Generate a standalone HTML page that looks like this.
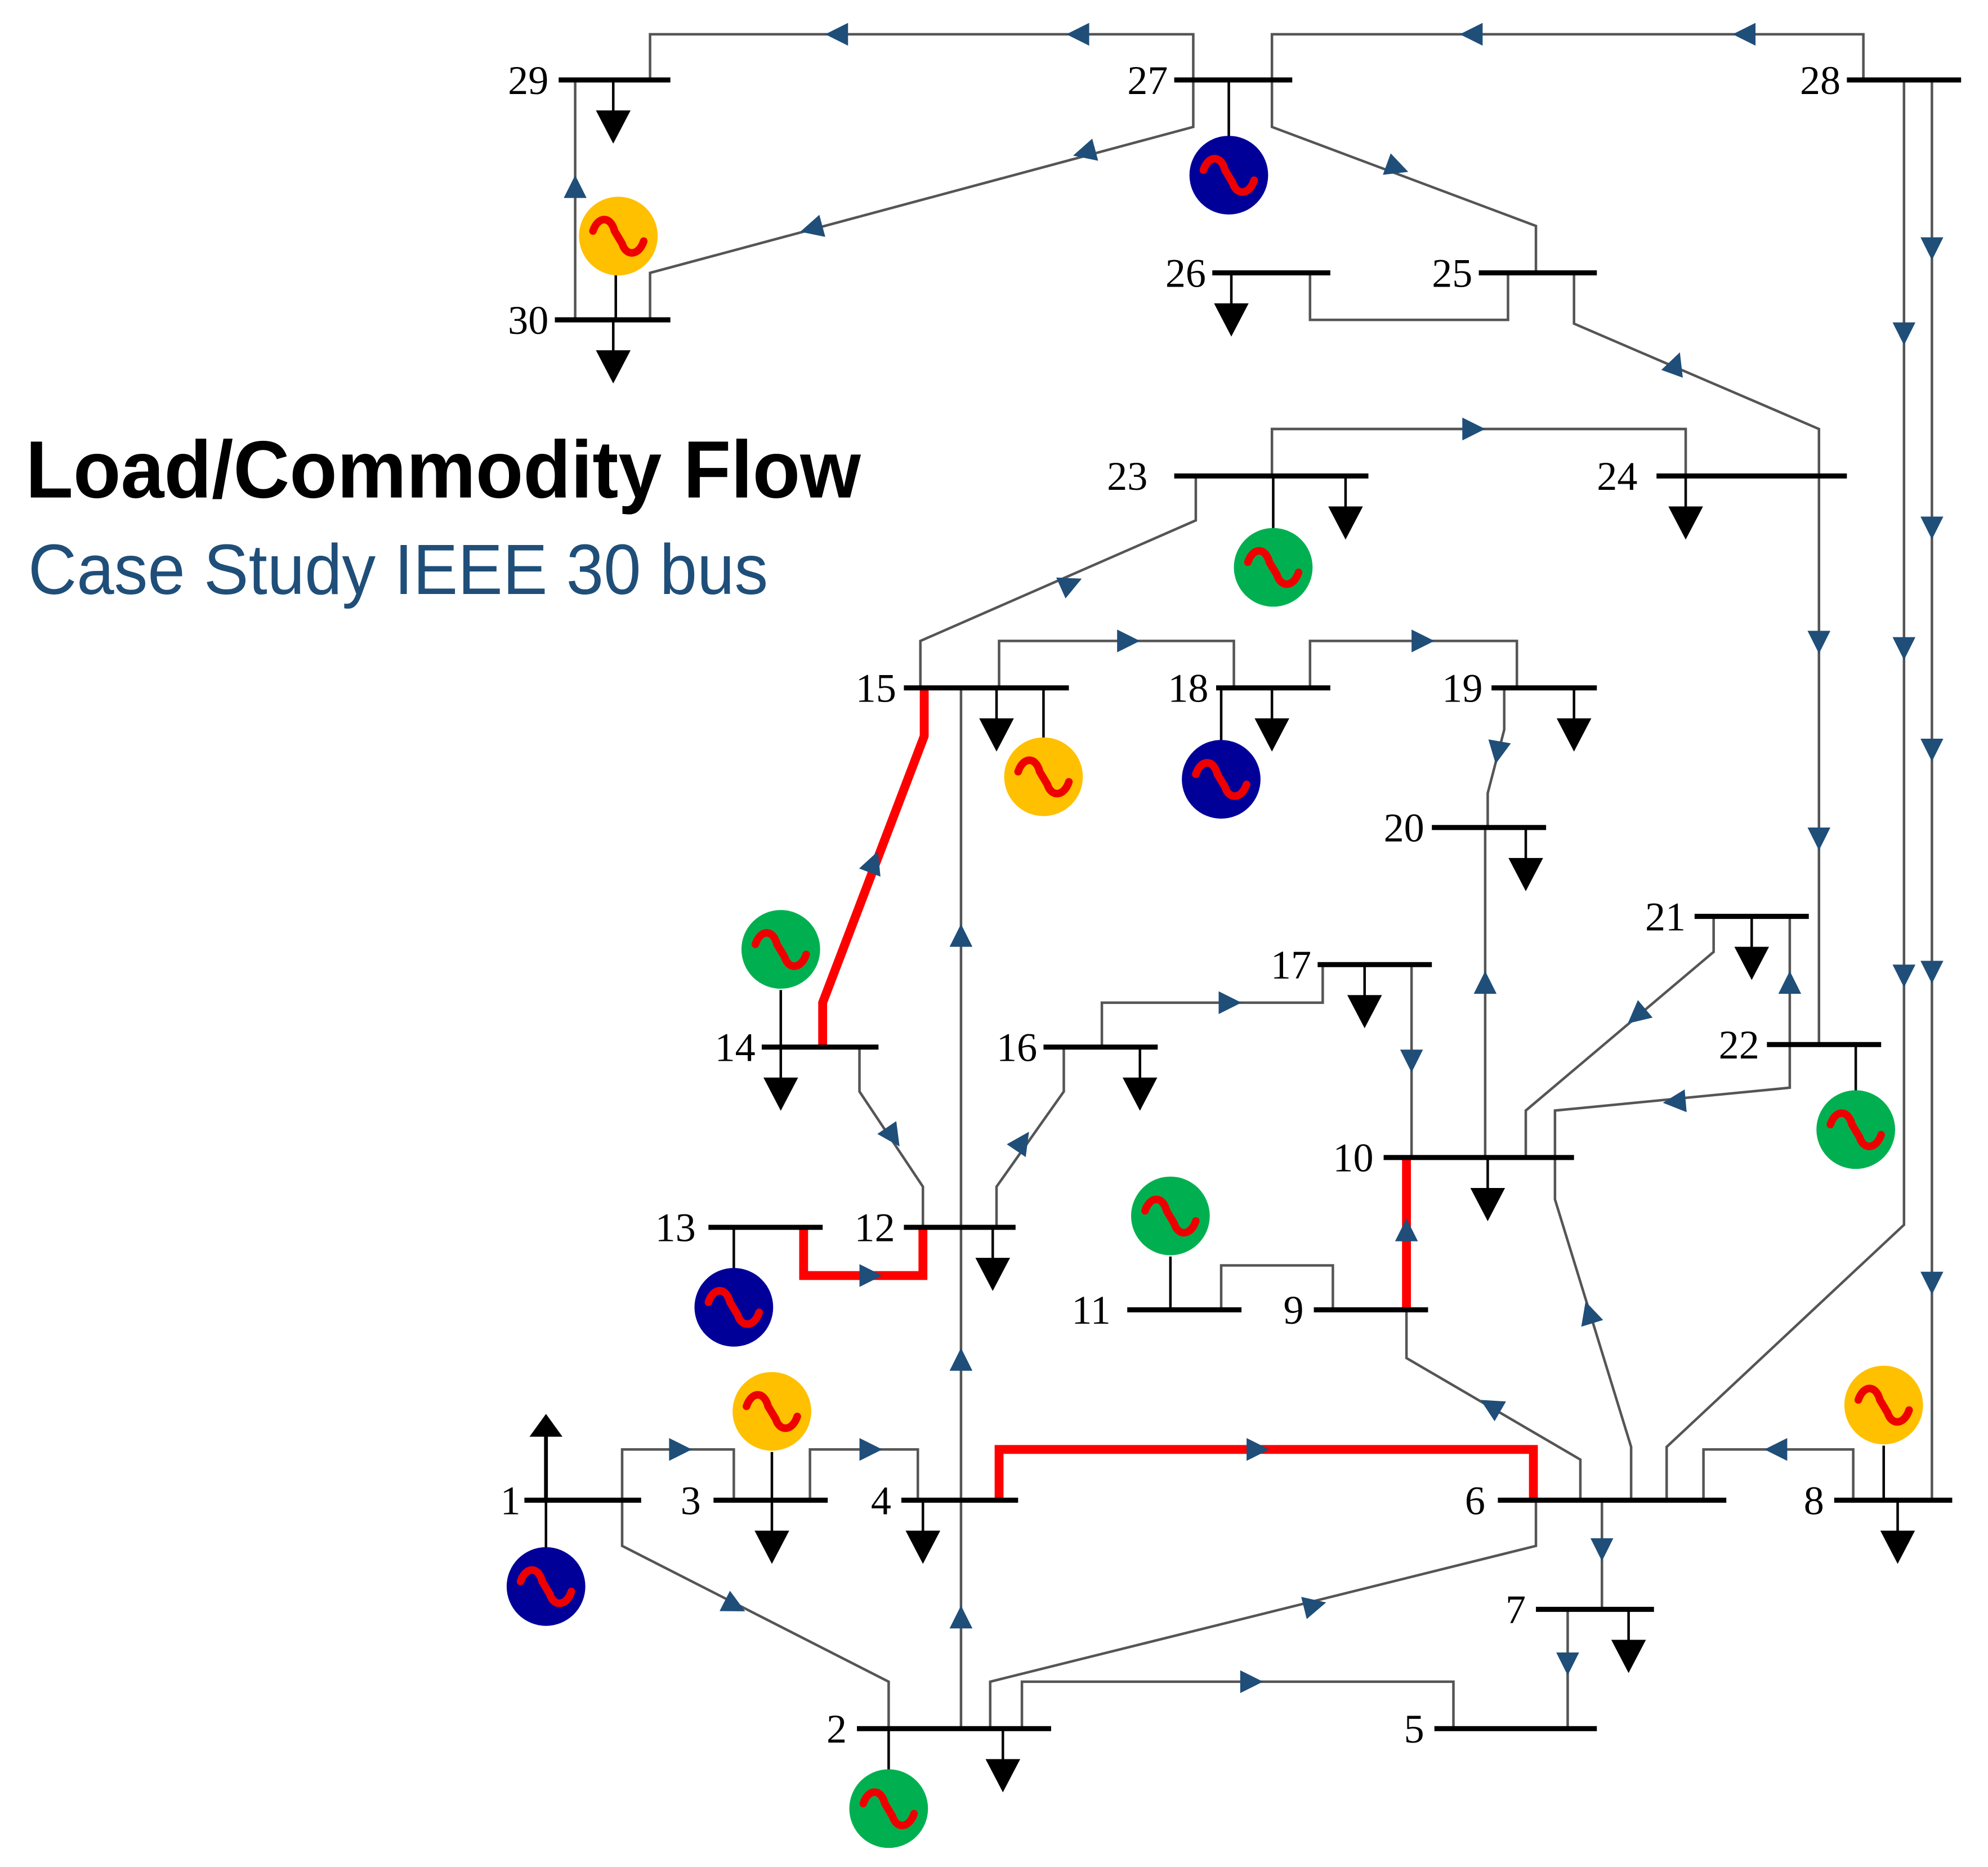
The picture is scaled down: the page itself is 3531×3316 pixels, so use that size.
<!DOCTYPE html>
<html><head><meta charset="utf-8"><style>html,body{margin:0;padding:0;background:#fff}svg{display:block}</style></head>
<body>
<svg width="3531" height="3316" viewBox="0 0 1566 1471" xmlns="http://www.w3.org/2000/svg">
<defs>
<path id="a" d="M10,0 L-8,-9 L-8,9 Z" fill="#1f4e79"/>
<path id="L" d="M0,0 L0,25 M-12,25 L12,25 L0,48 Z" stroke="#000" stroke-width="2" fill="#000"/>
<g id="sine"><path d="M-20,-4 C-16,-16 -6,-16 -3,-4 L3,6 C6,16 16,16 20,4" stroke="#e00" stroke-width="6" fill="none" stroke-linecap="round"/></g>
</defs>
<rect width="1566" height="1471" fill="#fff"/>
<text x="20" y="392" font-family="Liberation Sans, sans-serif" font-weight="bold" font-size="64" textLength="658" lengthAdjust="spacingAndGlyphs">Load/Commodity Flow</text>
<text x="22" y="468" font-family="Liberation Sans, sans-serif" font-size="56" fill="#1f4e79" textLength="583" lengthAdjust="spacingAndGlyphs">Case Study IEEE 30 bus</text>

<g stroke="#555" stroke-width="2" fill="none">
<polyline points="512,63 512,27 940,27 940,63"/>
<polyline points="1002,63 1002,27 1468,27 1468,63"/>
<polyline points="940,63 940,100 512,215 512,252"/>
<polyline points="453,63 453,252"/>
<polyline points="1002,63 1002,100 1210,178 1210,215"/>
<polyline points="1032,215 1032,252 1188,252 1188,215"/>
<polyline points="1240,215 1240,255 1433,338 1433,823"/>
<polyline points="1500,63 1500,965 1313,1140 1313,1182"/>
<polyline points="1522,63 1522,1182"/>
<polyline points="1002,375 1002,338 1328,338 1328,375"/>
<polyline points="942,375 942,410 725,505 725,542"/>
<polyline points="787,542 787,505 972,505 972,542"/>
<polyline points="1032,542 1032,505 1195,505 1195,542"/>
<polyline points="1185,542 1185,575 1172,625 1172,652"/>
<polyline points="1170,652 1170,912"/>
<polyline points="757,542 757,1362"/>
<polyline points="677,825 677,860 727,935 727,967"/>
<polyline points="838,825 838,860 785,935 785,967"/>
<polyline points="868,825 868,790 1042,790 1042,760"/>
<polyline points="1112,760 1112,912"/>
<polyline points="1350,722 1350,750 1202,875 1202,912"/>
<polyline points="1410,722 1410,857 1225,875 1225,912"/>
<polyline points="1225,912 1225,945 1285,1140 1285,1182"/>
<polyline points="1108,1032 1108,1070 1245,1150 1245,1182"/>
<polyline points="962,1032 962,997 1050,997 1050,1032"/>
<polyline points="490,1182 490,1142 578,1142 578,1182"/>
<polyline points="638,1182 638,1142 723,1142 723,1182"/>
<polyline points="490,1182 490,1218 700,1325 700,1362"/>
<polyline points="780,1362 780,1325 1210,1218 1210,1182"/>
<polyline points="805,1362 805,1325 1145,1325 1145,1362"/>
<polyline points="1262,1182 1262,1268"/>
<polyline points="1235,1268 1235,1362"/>
<polyline points="1342,1182 1342,1142 1460,1142 1460,1182"/>
</g>
<g stroke="#f00" stroke-width="7" fill="none">
<polyline points="648,825 648,790 728,580 728,542"/>
<polyline points="1108,1032 1108,912"/>
<polyline points="633,967 633,1005 727,1005 727,967"/>
<polyline points="787,1182 787,1142 1208,1142 1208,1182"/>
</g>

<g>
<use href="#a" transform="translate(660,27) rotate(180)"/>
<use href="#a" transform="translate(850,27) rotate(180)"/>
<use href="#a" transform="translate(1160,27) rotate(180)"/>
<use href="#a" transform="translate(1375,27) rotate(180)"/>
<use href="#a" transform="translate(855,120) rotate(165)"/>
<use href="#a" transform="translate(640,180) rotate(165)"/>
<use href="#a" transform="translate(453,148) rotate(-90)"/>
<use href="#a" transform="translate(1100,132) rotate(20)"/>
<use href="#a" transform="translate(1320,287) rotate(-70)"/>
<use href="#a" transform="translate(1433,505) rotate(90)"/>
<use href="#a" transform="translate(1433,660) rotate(90)"/>
<use href="#a" transform="translate(1500,262) rotate(90)"/>
<use href="#a" transform="translate(1500,510) rotate(90)"/>
<use href="#a" transform="translate(1500,768) rotate(90)"/>
<use href="#a" transform="translate(1522,195) rotate(90)"/>
<use href="#a" transform="translate(1522,415) rotate(90)"/>
<use href="#a" transform="translate(1522,590) rotate(90)"/>
<use href="#a" transform="translate(1522,765) rotate(90)"/>
<use href="#a" transform="translate(1522,1010) rotate(90)"/>
<use href="#a" transform="translate(1160,338)"/>
<use href="#a" transform="translate(843,460) rotate(-24)"/>
<use href="#a" transform="translate(888,505)"/>
<use href="#a" transform="translate(1120,505)"/>
<use href="#a" transform="translate(1180,592) rotate(100)"/>
<use href="#a" transform="translate(1170,775) rotate(-90)"/>
<use href="#a" transform="translate(757,738) rotate(-90)"/>
<use href="#a" transform="translate(757,1072) rotate(-90)"/>
<use href="#a" transform="translate(757,1275) rotate(-90)"/>
<use href="#a" transform="translate(688,680) rotate(-69)"/>
<use href="#a" transform="translate(703,895) rotate(56)"/>
<use href="#a" transform="translate(805,900) rotate(-56)"/>
<use href="#a" transform="translate(968,790)"/>
<use href="#a" transform="translate(1112,835) rotate(90)"/>
<use href="#a" transform="translate(1290,800) rotate(140)"/>
<use href="#a" transform="translate(1320,868) rotate(175)"/>
<use href="#a" transform="translate(1410,775) rotate(-90)"/>
<use href="#a" transform="translate(1252,1035) rotate(-107)"/>
<use href="#a" transform="translate(1108,970) rotate(-90)"/>
<use href="#a" transform="translate(1175,1108) rotate(-150)"/>
<use href="#a" transform="translate(685,1005)"/>
<use href="#a" transform="translate(990,1142)"/>
<use href="#a" transform="translate(535,1142)"/>
<use href="#a" transform="translate(685,1142)"/>
<use href="#a" transform="translate(578,1265) rotate(27)"/>
<use href="#a" transform="translate(1035,1265) rotate(-14)"/>
<use href="#a" transform="translate(985,1325)"/>
<use href="#a" transform="translate(1262,1220) rotate(90)"/>
<use href="#a" transform="translate(1235,1310) rotate(90)"/>
<use href="#a" transform="translate(1400,1142) rotate(180)"/>
</g>

<g>
<use href="#L" x="483" y="63"/><use href="#L" x="483" y="252"/><use href="#L" x="970" y="215"/>
<use href="#L" x="1060" y="375"/><use href="#L" x="1328" y="375"/><use href="#L" x="785" y="542"/>
<use href="#L" x="1002" y="542"/><use href="#L" x="1240" y="542"/><use href="#L" x="1202" y="652"/>
<use href="#L" x="1380" y="722"/><use href="#L" x="1075" y="760"/><use href="#L" x="615" y="825"/>
<use href="#L" x="898" y="825"/><use href="#L" x="1172" y="912"/><use href="#L" x="782" y="967"/>
<use href="#L" x="608" y="1182"/><use href="#L" x="727" y="1182"/><use href="#L" x="1495" y="1182"/>
<use href="#L" x="1283" y="1268"/><use href="#L" x="790" y="1362"/>
</g>

<g stroke="#000" stroke-width="2">
<line x1="968" y1="63" x2="968" y2="108"/><line x1="485" y1="216" x2="485" y2="252"/>
<line x1="1003" y1="375" x2="1003" y2="417"/><line x1="822" y1="542" x2="822" y2="582"/>
<line x1="962" y1="542" x2="962" y2="584"/><line x1="615" y1="780" x2="615" y2="825"/>
<line x1="1462" y1="823" x2="1462" y2="860"/><line x1="578" y1="967" x2="578" y2="1000"/>
<line x1="922" y1="990" x2="922" y2="1032"/><line x1="608" y1="1144" x2="608" y2="1182"/>
<line x1="1484" y1="1139" x2="1484" y2="1182"/><line x1="430" y1="1182" x2="430" y2="1220"/>
<line x1="700" y1="1362" x2="700" y2="1395"/>
<line x1="430" y1="1182" x2="430" y2="1130" stroke-width="3"/>
</g>
<path d="M430,1114 L417,1132 L443,1132 Z" fill="#000"/>

<g>
<circle cx="968" cy="138" r="31" fill="#000099"/><use href="#sine" x="968" y="138"/>
<circle cx="487" cy="186" r="31" fill="#ffc000"/><use href="#sine" x="487" y="186"/>
<circle cx="1003" cy="447" r="31" fill="#00b050"/><use href="#sine" x="1003" y="447"/>
<circle cx="822" cy="612" r="31" fill="#ffc000"/><use href="#sine" x="822" y="612"/>
<circle cx="962" cy="614" r="31" fill="#000099"/><use href="#sine" x="962" y="614"/>
<circle cx="615" cy="748" r="31" fill="#00b050"/><use href="#sine" x="615" y="748"/>
<circle cx="1462" cy="890" r="31" fill="#00b050"/><use href="#sine" x="1462" y="890"/>
<circle cx="578" cy="1030" r="31" fill="#000099"/><use href="#sine" x="578" y="1030"/>
<circle cx="922" cy="958" r="31" fill="#00b050"/><use href="#sine" x="922" y="958"/>
<circle cx="608" cy="1112" r="31" fill="#ffc000"/><use href="#sine" x="608" y="1112"/>
<circle cx="1484" cy="1107" r="31" fill="#ffc000"/><use href="#sine" x="1484" y="1107"/>
<circle cx="430" cy="1250" r="31" fill="#000099"/><use href="#sine" x="430" y="1250"/>
<circle cx="700" cy="1425" r="31" fill="#00b050"/><use href="#sine" x="700" y="1425"/>
</g>

<g stroke="#000" stroke-width="4">
<line x1="440" y1="63" x2="528" y2="63"/><line x1="925" y1="63" x2="1018" y2="63"/>
<line x1="1455" y1="63" x2="1545" y2="63"/><line x1="437" y1="252" x2="528" y2="252"/>
<line x1="955" y1="215" x2="1048" y2="215"/><line x1="1165" y1="215" x2="1258" y2="215"/>
<line x1="925" y1="375" x2="1078" y2="375"/><line x1="1305" y1="375" x2="1455" y2="375"/>
<line x1="712" y1="542" x2="842" y2="542"/><line x1="958" y1="542" x2="1048" y2="542"/>
<line x1="1175" y1="542" x2="1258" y2="542"/><line x1="1128" y1="652" x2="1218" y2="652"/>
<line x1="1335" y1="722" x2="1425" y2="722"/><line x1="1038" y1="760" x2="1128" y2="760"/>
<line x1="1392" y1="823" x2="1482" y2="823"/><line x1="600" y1="825" x2="692" y2="825"/>
<line x1="822" y1="825" x2="912" y2="825"/><line x1="1090" y1="912" x2="1240" y2="912"/>
<line x1="558" y1="967" x2="648" y2="967"/><line x1="712" y1="967" x2="800" y2="967"/>
<line x1="888" y1="1032" x2="978" y2="1032"/><line x1="1035" y1="1032" x2="1125" y2="1032"/>
<line x1="413" y1="1182" x2="505" y2="1182"/><line x1="562" y1="1182" x2="652" y2="1182"/>
<line x1="710" y1="1182" x2="802" y2="1182"/><line x1="1180" y1="1182" x2="1360" y2="1182"/>
<line x1="1445" y1="1182" x2="1538" y2="1182"/><line x1="1210" y1="1268" x2="1303" y2="1268"/>
<line x1="675" y1="1362" x2="828" y2="1362"/><line x1="1130" y1="1362" x2="1258" y2="1362"/>
</g>

<g font-family="Liberation Serif, serif" font-size="32" text-anchor="end" fill="#000">
<text x="432" y="74">29</text><text x="920" y="74">27</text><text x="1450" y="74">28</text>
<text x="432" y="263">30</text><text x="950" y="226">26</text><text x="1160" y="226">25</text>
<text x="904" y="386">23</text><text x="1290" y="386">24</text><text x="706" y="553">15</text>
<text x="952" y="553">18</text><text x="1168" y="553">19</text><text x="1122" y="663">20</text>
<text x="1328" y="733">21</text><text x="1033" y="771">17</text><text x="1386" y="834">22</text>
<text x="595" y="836">14</text><text x="817" y="836">16</text><text x="1082" y="923">10</text>
<text x="548" y="978">13</text><text x="705" y="978">12</text><text x="875" y="1043">11</text>
<text x="1027" y="1043">9</text><text x="410" y="1193">1</text><text x="552" y="1193">3</text>
<text x="702" y="1193">4</text><text x="1170" y="1193">6</text><text x="1437" y="1193">8</text>
<text x="1202" y="1279">7</text><text x="667" y="1373">2</text><text x="1122" y="1373">5</text>
</g>
</svg>
</body></html>
